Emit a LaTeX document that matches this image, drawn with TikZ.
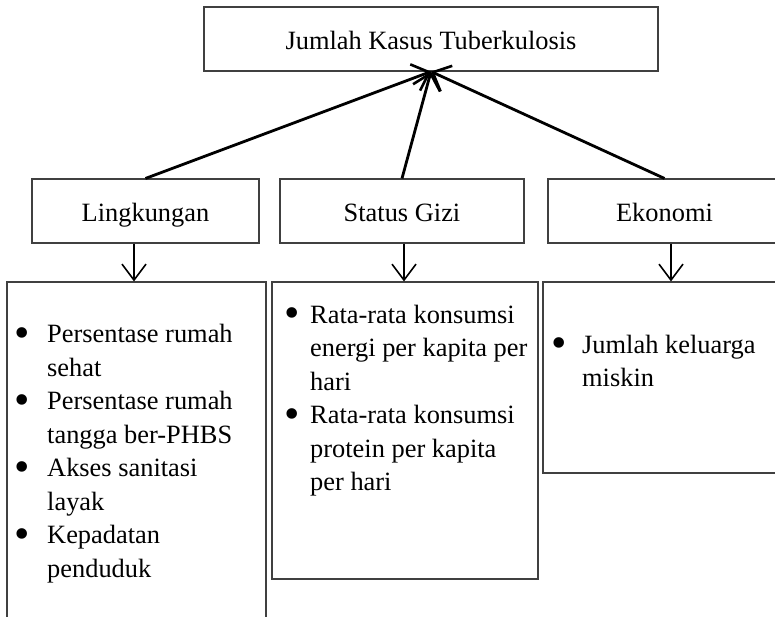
\documentclass[tikz,border=0pt]{standalone}
\usepackage{fontspec}
\setmainfont{Liberation Serif}
\usetikzlibrary{arrows.meta,calc}
\begin{document}
\begin{tikzpicture}[x=1pt,y=-1pt,
  every node/.style={font=\fontsize{26.4}{33.5}\selectfont},
  box/.style={draw=black!75,line width=1.1pt,rectangle,inner sep=0pt,
    text height=20pt,text depth=0pt},
  line/.style={anchor=base west,inner sep=0pt},
  bul/.style={anchor=base,inner sep=0pt,font=\fontsize{44}{44}\selectfont,yshift=-4.5pt},
  uparrow/.style={line width=2.8pt,-{Straight Barb[length=15pt,width=28pt,line width=2.6pt]}},
  downarrow/.style={line width=1.6pt,-{Straight Barb[length=16pt,width=24pt,line width=1.6pt]}}
]
\useasboundingbox (0,0) rectangle (775,616);
\clip (0,0) rectangle (775,616);

% top box
\node[box,minimum width=454pt,minimum height=64pt] (top) at (431,39) {Jumlah Kasus Tuberkulosis};

% middle boxes
\node[box,minimum width=227pt,minimum height=64pt] (ling) at (145.5,211) {Lingkungan};
\node[box,minimum width=244pt,minimum height=64pt] (gizi) at (402,211) {Status Gizi};
\node[box,minimum width=233pt,minimum height=64pt] (eko) at (664.5,211) {Ekonomi};

% bottom boxes
\node[box,minimum width=259pt,minimum height=348pt] (b1) at (136.5,456) {};
\node[box,minimum width=266pt,minimum height=297pt] (b2) at (405,430.5) {};
\node[box,minimum width=247pt,minimum height=191pt] (b3) at (666.5,377.5) {};

% arrows up
\draw[uparrow] (ling.north) -- (top.south);
\draw[uparrow] (gizi.north) -- (top.south);
\draw[uparrow] (eko.north) -- (top.south);

% arrows down
\draw[downarrow] ([xshift=-11.5pt]ling.south) -- ([xshift=-11.5pt]ling.south |- b1.north);
\draw[downarrow] ([xshift=2pt]gizi.south) -- ([xshift=2pt]gizi.south |- b2.north);
\draw[downarrow] ([xshift=6.5pt]eko.south) -- ([xshift=6.5pt]eko.south |- b3.north);

% box 1 text
\node[bul] (b1u1) at (22,342.5) {•};
\node[line] (b1l1) at (47,342.5) {Persentase rumah};
\node[line] (b1l2) at (47,376) {sehat};
\node[bul] (b1u2) at (22,409.5) {•};
\node[line] (b1l3) at (47,409.5) {Persentase rumah};
\node[line] (b1l4) at (47,443) {tangga ber-PHBS};
\node[bul] (b1u3) at (22,476.5) {•};
\node[line] (b1l5) at (47,476.5) {Akses sanitasi};
\node[line] (b1l6) at (47,510) {layak};
\node[bul] (b1u4) at (22,543.5) {•};
\node[line] (b1l7) at (47,543.5) {Kepadatan};
\node[line] (b1l8) at (47,577) {penduduk};

% box 2 text
\node[bul] (b2u1) at (292,323) {•};
\node[line] (b2l1) at (310,323) {Rata-rata konsumsi};
\node[line] (b2l2) at (310,356.5) {energi per kapita per};
\node[line] (b2l3) at (310,390) {hari};
\node[bul] (b2u2) at (292,423.5) {•};
\node[line] (b2l4) at (310,423.5) {Rata-rata konsumsi};
\node[line] (b2l5) at (310,457) {protein per kapita};
\node[line] (b2l6) at (310,490) {per hari};

% box 3 text
\node[bul] (b3u1) at (559,353) {•};
\node[line] (b3l1) at (582,353) {Jumlah keluarga};
\node[line] (b3l2) at (582,386.5) {miskin};
\end{tikzpicture}
\end{document}
